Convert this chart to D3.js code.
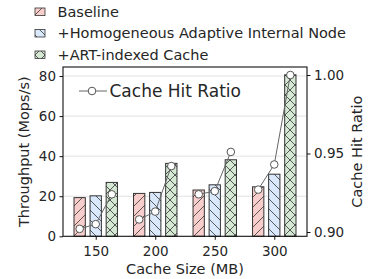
<!DOCTYPE html>
<html>
<head>
<meta charset="utf-8">
<script src="https://cdn.jsdelivr.net/npm/d3@7"></script>
<style>
  body { margin: 0; background: #fff; }
  text { font-family: "DejaVu Sans", sans-serif; fill: #262626; }
</style>
</head>
<body>
<svg width="375" height="279"></svg>
<script>
// data
var cacheSizes = ["150", "200", "250", "300"];
var seriesNames = ["Baseline", "+Homogeneous Adaptive Internal Node", "+ART-indexed Cache"];
var baseline = [19.3, 21.4, 23.1, 24.7];
var hain = [20.2, 21.9, 25.7, 31.0];
var artCache = [26.9, 36.4, 38.2, 80.6];
var hitBaseline = [0.902, 0.908, 0.924, 0.927];
var hitHain = [0.905, 0.913, 0.926, 0.943];
var hitArt = [0.924, 0.942, 0.951, 1.000];
var leftTicks = [0, 20, 40, 60, 80];
var rightTicks = [0.90, 0.95, 1.00];

var fills = ["#f8cecc", "#dae8fc", "#d5e8d4"];
var hatches = ["fwd", "back", "cross"];

var svg = d3.select("svg"),
    plotL = 63, plotR = 307, plotT = 67, plotB = 236.3;

var x = d3.scaleLinear().domain([-0.55, 3.55]).range([plotL, plotR]);
var y = d3.scaleLinear().domain([0, 84.5]).range([plotB, plotT]);
var y2 = d3.scaleLinear().domain([0.89726, 1.0051]).range([plotB, plotT]);

var offsets = [-0.27, 0, 0.27], barW = 0.19;

// hatch patterns
var defs = svg.append("defs");
hatches.forEach(function(h, i) {
    var p = defs.append("pattern")
        .attr("id", "h-" + h)
        .attr("patternUnits", "userSpaceOnUse")
        .attr("width", 10).attr("height", 10);
    p.append("rect").attr("width", 10).attr("height", 10).attr("fill", fills[i]);
    var segs = [];
    if (h == "fwd" || h == "cross") segs.push([0, 10, 10, 0], [-1, 1, 1, -1], [9, 11, 11, 9]);
    if (h == "back" || h == "cross") segs.push([0, 0, 10, 10], [-1, 9, 1, 11], [9, -1, 11, 1]);
    segs.forEach(function(s) {
        p.append("line").attr("x1", s[0]).attr("y1", s[1]).attr("x2", s[2]).attr("y2", s[3])
            .attr("stroke", "#333").attr("stroke-width", 0.8);
    });
});

// grid
svg.append("g").selectAll("line")
    .data(leftTicks.slice(1))
    .enter().append("line")
    .attr("x1", plotL).attr("x2", plotR)
    .attr("y1", function(d) { return y(d); })
    .attr("y2", function(d) { return y(d); })
    .attr("stroke", "#e2e2e2").attr("stroke-width", 1);

// bars
var allSeries = [baseline, hain, artCache];
allSeries.forEach(function(vals, s) {
    svg.append("g").selectAll("rect")
        .data(vals)
        .enter().append("rect")
        .attr("x", function(d, i) { return x(i + offsets[s] - barW / 2); })
        .attr("width", x(barW) - x(0))
        .attr("y", function(d) { return y(d); })
        .attr("height", function(d) { return y(0) - y(d); })
        .attr("fill", "url(#h-" + hatches[s] + ")")
        .attr("stroke", "#333").attr("stroke-width", 1);
});

// hit ratio lines, one per group
var hitSeries = [hitBaseline, hitHain, hitArt];
var line = d3.line()
    .x(function(d) { return x(d.g + offsets[d.s]); })
    .y(function(d) { return y2(d.v); });
cacheSizes.forEach(function(c, g) {
    var pts = hitSeries.map(function(vals, s) { return { g: g, s: s, v: vals[g] }; });
    svg.append("path").datum(pts)
        .attr("d", line).attr("fill", "none")
        .attr("stroke", "#666").attr("stroke-width", 1);
    svg.append("g").selectAll("circle")
        .data(pts).enter().append("circle")
        .attr("cx", function(d) { return x(d.g + offsets[d.s]); })
        .attr("cy", function(d) { return y2(d.v); })
        .attr("r", 3.8)
        .attr("fill", "#fff").attr("stroke", "#555").attr("stroke-width", 1);
});

// frame
svg.append("rect").attr("x", plotL).attr("y", plotT)
    .attr("width", plotR - plotL).attr("height", plotB - plotT)
    .attr("fill", "none").attr("stroke", "#111").attr("stroke-width", 1.1);

// axes
var xAxis = d3.axisBottom(x).tickValues([0, 1, 2, 3])
    .tickFormat(function(d) { return cacheSizes[d]; }).tickSize(3.5).tickPadding(4);
var gx = svg.append("g").attr("transform", "translate(0," + plotB + ")").call(xAxis);
var yAxis = d3.axisLeft(y).tickValues(leftTicks).tickSize(3.5).tickPadding(3.5);
var gy = svg.append("g").attr("transform", "translate(" + plotL + ",0)").call(yAxis);
var yAxis2 = d3.axisRight(y2).tickValues(rightTicks).tickFormat(d3.format(".2f")).tickSize(3.5).tickPadding(3.5);
var gy2 = svg.append("g").attr("transform", "translate(" + plotR + ",0)").call(yAxis2);
[gx, gy, gy2].forEach(function(g) {
    g.select(".domain").remove();
    g.selectAll("line").attr("stroke", "#111");
    g.selectAll("text").attr("font-size", 13.5).attr("fill", "#262626")
        .attr("font-family", "DejaVu Sans, sans-serif");
});
gx.selectAll("text").attr("dy", "0.9em");

// axis titles
svg.append("text").attr("x", (plotL + plotR) / 2).attr("y", 274)
    .attr("text-anchor", "middle").attr("font-size", 14.5).text("Cache Size (MB)");
svg.append("text").attr("transform", "translate(29," + (plotT + plotB) / 2 + ") rotate(-90)")
    .attr("text-anchor", "middle").attr("font-size", 14.5).text("Throughput (Mops/s)");
svg.append("text").attr("transform", "translate(362," + (plotT + plotB) / 2 + ") rotate(-90)")
    .attr("text-anchor", "middle").attr("font-size", 14.5).text("Cache Hit Ratio");

// top legend
var leg = svg.append("g");
seriesNames.forEach(function(n, i) {
    var by = 16.5 + i * 21.5;
    leg.append("rect").attr("x", 35).attr("y", by - 8.5).attr("width", 10).attr("height", 7.5)
        .attr("fill", "url(#h-" + hatches[i] + ")").attr("stroke", "#333").attr("stroke-width", 0.8);
    leg.append("text").attr("x", 57.5).attr("y", by).attr("font-size", 14.5).text(n);
});

// in-plot legend for the line
svg.append("line").attr("x1", 79).attr("x2", 107).attr("y1", 91).attr("y2", 91)
    .attr("stroke", "#666").attr("stroke-width", 1);
svg.append("circle").attr("cx", 92).attr("cy", 91).attr("r", 3.8)
    .attr("fill", "#fff").attr("stroke", "#555");
svg.append("text").attr("x", 109.5).attr("y", 96.7).attr("font-size", 17).text("Cache Hit Ratio");
</script>
</body>
</html>
